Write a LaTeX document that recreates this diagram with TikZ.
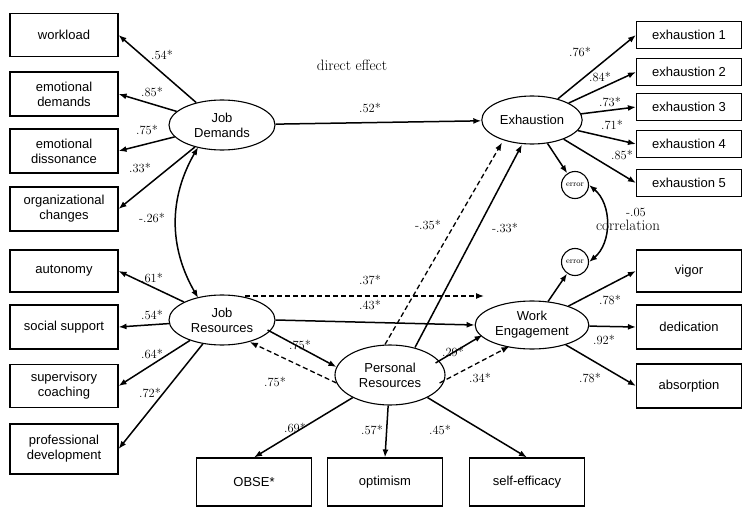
\documentclass[tikz,border=0pt]{standalone}
\usepackage{fontspec}
\setsansfont{Liberation Sans}
\usetikzlibrary{shapes.geometric,calc,arrows.meta}
\begin{document}
\begin{tikzpicture}[x=1pt,y=-1pt,
 box/.style={draw,line width=1.1pt,fill=white,font=\sffamily\fontsize{13}{15}\selectfont,align=center,inner sep=2pt},
 el/.style={draw,line width=1.1pt,ellipse,font=\sffamily\fontsize{13}{15}\selectfont,align=center},
 ar/.style={line width=1.5pt,-{Latex[length=8pt,width=6pt]}},
 da/.style={line width=1.3pt,dash pattern=on 5pt off 3pt,-{Latex[length=8pt,width=6pt]}},
 lb/.style={font=\fontsize{12.5}{14}\selectfont}]
\useasboundingbox (0,0) rectangle (748,514);
\fill[white] (0,0) rectangle (748,514);
\tikzset{lbox/.style={box,minimum width=108pt},rbox/.style={box,minimum width=105pt,minimum height=27pt},bbox/.style={box,minimum width=115pt,minimum height=48pt}}
\node[lbox,minimum height=43pt] (w) at (64,35) {workload};
\node[lbox,minimum height=44pt] (ed) at (64,94) {emotional\\demands};
\node[lbox,minimum height=44pt] (eds) at (64,151) {emotional\\dissonance};
\node[lbox,minimum height=44pt] (oc) at (64,209) {organizational\\changes};
\node[lbox,minimum height=42pt] (au) at (64,271) {autonomy};
\node[lbox,minimum height=44pt] (ss) at (64,327) {social support};
\node[lbox,minimum height=43pt] (sc) at (64,386) {supervisory\\coaching};
\node[lbox,minimum height=50pt] (pd) at (64,449) {professional\\development};
\node[rbox] (e1) at (689,35) {exhaustion 1};
\node[rbox] (e2) at (689,72) {exhaustion 2};
\node[rbox] (e3) at (689,107) {exhaustion 3};
\node[rbox] (e4) at (689,144) {exhaustion 4};
\node[rbox] (e5) at (689,183) {exhaustion 5};
\node[rbox,minimum height=42pt] (vi) at (689,271) {vigor};
\node[rbox,minimum height=44pt] (de) at (689,327) {dedication};
\node[rbox,minimum height=44pt] (ab) at (689,386) {absorption};
\node[bbox] (ob) at (254,482) {OBSE*};
\node[bbox] (op) at (385,482) {optimism};
\node[bbox] (se) at (527,482) {self-efficacy};
\node[el,minimum width=106pt,minimum height=50pt] (jd) at (222,125) {Job\\Demands};
\node[el,minimum width=106pt,minimum height=50pt] (jr) at (222,320) {Job\\Resources};
\node[el,minimum width=100pt,minimum height=48pt] (ex) at (532,120) {Exhaustion};
\node[el,minimum width=100pt,minimum height=48pt] (we) at (532,325) {Work\\Engagement};
\node[el,minimum width=110pt,minimum height=60pt] (pr) at (390,375) {Personal\\Resources};
\node[draw,line width=1.1pt,circle,minimum size=27pt,inner sep=0pt,font=\footnotesize] (r1) at (575,185) {error};
\node[draw,line width=1.1pt,circle,minimum size=27pt,inner sep=0pt,font=\footnotesize] (r2) at (575,262) {error};
\foreach \b in {w,ed,eds,oc} \draw[ar] (jd) -- (\b.east);
\foreach \b in {au,ss,sc,pd} \draw[ar] (jr) -- (\b.east);
\foreach \b in {e1,e2,e3,e4,e5} \draw[ar] (ex) -- (\b.west);
\foreach \b in {vi,de,ab} \draw[ar] (we) -- (\b.west);
\foreach \b in {ob,op,se} \draw[ar] (pr) -- (\b.north);
\draw[ar] (jd) -- (ex);
\draw[line width=1.5pt,{Latex[length=8pt,width=6pt]}-{Latex[length=8pt,width=6pt]}] ($(jd.south west)+(14,4)$) to[bend right=30] ($(jr.north west)+(14,-4)$);
\coordinate (a1) at (245,296); \coordinate (a2) at (484,296);
\draw[da] (a1) -- (a2);
\draw[ar] (jr.east) -- (we.west);
\draw[ar] ($(jr.east)+(-8,10)$) -- ($(pr.west)+(2,-8)$);
\draw[da] ($(pr.west)+(2,8)$) -- ($(jr.south east)+(-10,4)$);
\draw[da] ($(pr.north)+(-5,0)$) -- ($(ex.south)+(-30,-2)$);
\draw[ar] ($(pr.north)+(25,3)$) -- ($(ex.south)+(-10,0)$);
\draw[ar] ($(pr.east)+(-10,-12)$) -- ($(we.west)+(8,10)$);
\draw[da] ($(pr.east)+(-6,8)$) -- ($(we.south west)+(18,4)$);
\draw[ar] (ex) -- (r1);
\draw[ar] (we) -- (r2);
\draw[line width=1.5pt,{Latex[length=8pt,width=6pt]}-{Latex[length=8pt,width=6pt]}] (r1.east) to[bend left=50] (r2.east);
\node[lb,font=\fontsize{15}{17}\selectfont] at (352,65) {direct effect};
\node[lb] at (370,108) {.52*};
\node[lb] at (162,55) {.54*};
\node[lb] at (152,92) {.85*};
\node[lb] at (147,130) {.75*};
\node[lb] at (140,168) {.33*};
\node[lb] at (152,218) {-.26*};
\node[lb] at (152,278) {.61*};
\node[lb] at (152,315) {.54*};
\node[lb] at (152,354) {.64*};
\node[lb] at (150,393) {.72*};
\node[lb] at (370,280) {.37*};
\node[lb] at (370,305) {.43*};
\node[lb] at (300,345) {.75*};
\node[lb] at (275,382) {.75*};
\node[lb] at (428,225) {-.35*};
\node[lb] at (505,228) {-.33*};
\node[lb] at (453,352) {.29*};
\node[lb] at (480,378) {.34*};
\node[lb] at (295,428) {.69*};
\node[lb] at (372,430) {.57*};
\node[lb] at (440,430) {.45*};
\node[lb] at (580,52) {.76*};
\node[lb] at (600,77) {.84*};
\node[lb] at (610,102) {.73*};
\node[lb] at (612,125) {.71*};
\node[lb] at (622,155) {.85*};
\node[lb] at (636,212) {-.05};
\node[lb,font=\fontsize{15}{17}\selectfont] at (628,225) {correlation};
\node[lb] at (610,300) {.78*};
\node[lb] at (604,340) {.92*};
\node[lb] at (590,378) {.78*};
\end{tikzpicture}
\end{document}
